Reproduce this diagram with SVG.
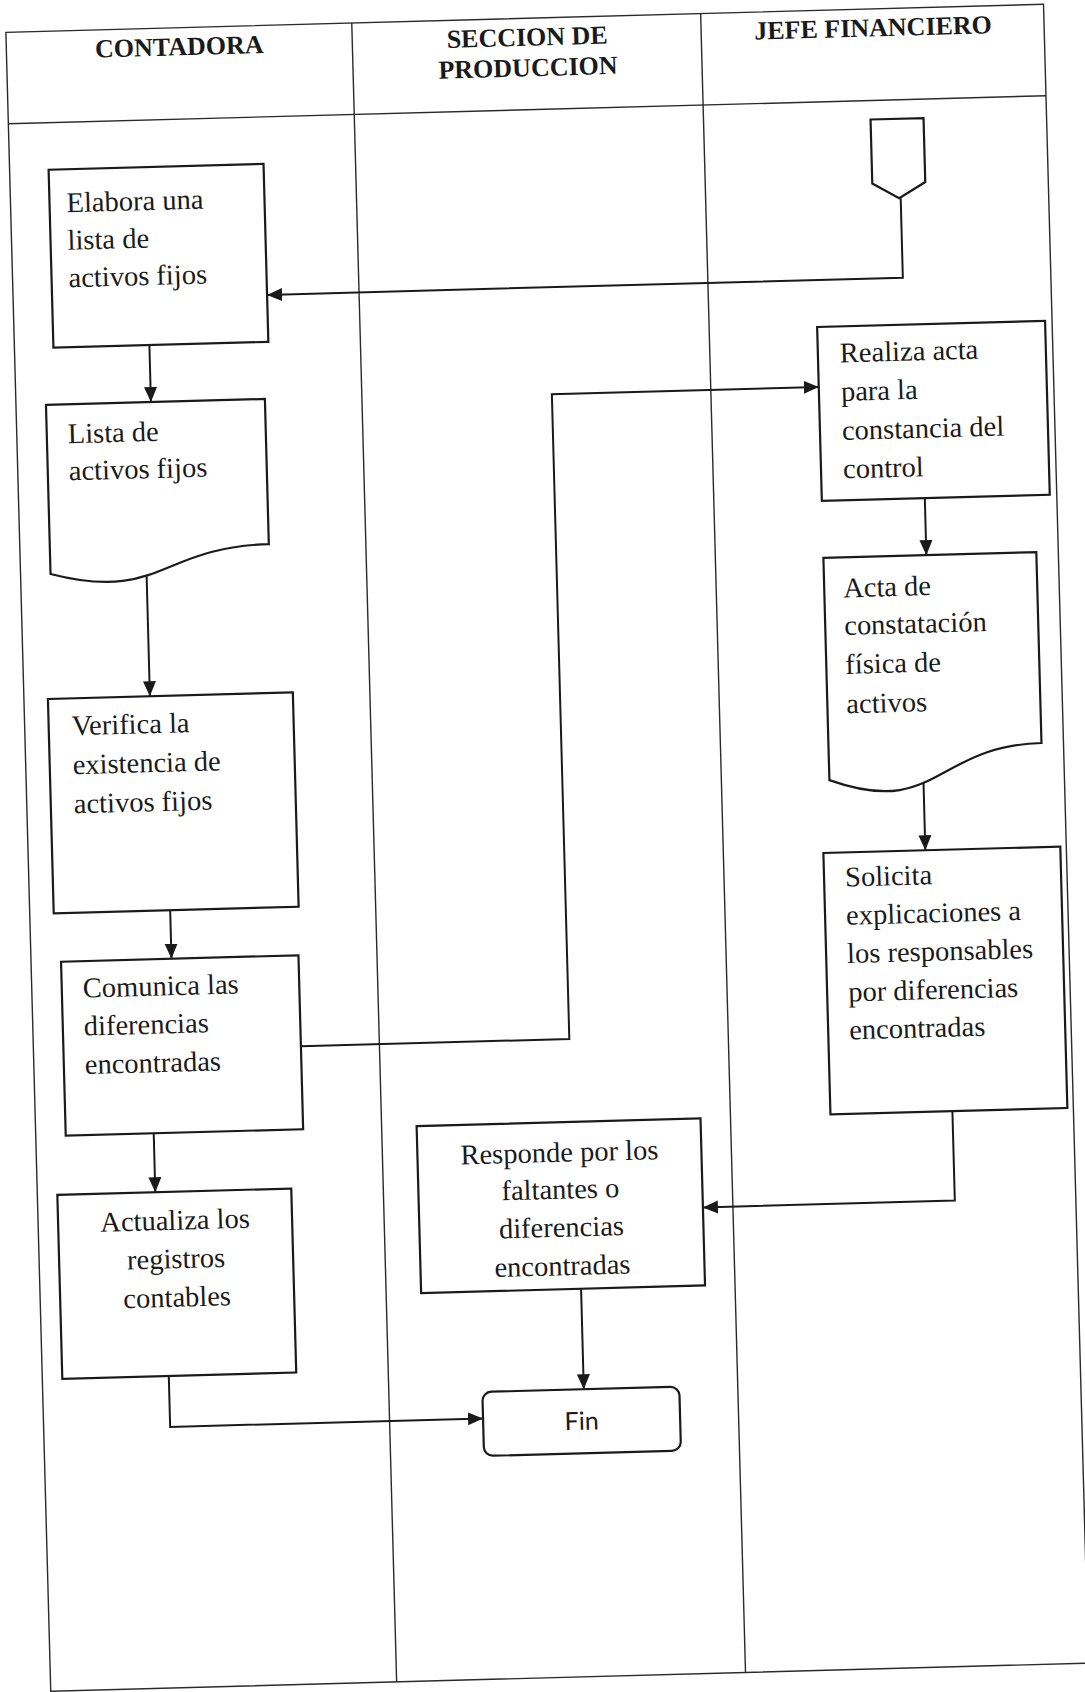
<svg xmlns="http://www.w3.org/2000/svg" width="1085" height="1692" viewBox="0 0 1085 1692">
  <style>
    .lane { fill: none; stroke: #2a2a2a; stroke-width: 1.4; }
    .box { fill: #ffffff; stroke: #1a1a1a; stroke-width: 2.2; }
    .conn { fill: none; stroke: #1a1a1a; stroke-width: 2; }
    .hdr { font-family: "Liberation Serif", "Times New Roman", serif; font-weight: bold; font-size: 26px; fill: #1a1a1a; text-anchor: middle; }
    .txt { font-family: "Liberation Serif", "Times New Roman", serif; font-size: 28.5px; fill: #1a1a1a; }
    .mid { text-anchor: middle; }
    .fin { font-family: Lato, "Liberation Sans", sans-serif; font-size: 25px; fill: #1a1a1a; text-anchor: middle; }
  </style>
  <defs>
    <marker id="arrow" markerUnits="userSpaceOnUse" markerWidth="16" markerHeight="14" refX="15" refY="6.5" orient="auto">
      <path d="M0,0 L15,6.5 L0,13 Z" fill="#1a1a1a"/>
    </marker>
  </defs>
  <rect x="0" y="0" width="1085" height="1692" fill="#ffffff"/>
  <g transform="rotate(-1.55)">
    <g id="lanes">
      <rect class="lane" x="5" y="32.5" width="1038" height="1659.5"/>
      <line class="lane" x1="5" y1="124" x2="1043" y2="124"/>
      <line class="lane" x1="351" y1="32.5" x2="351" y2="1692"/>
      <line class="lane" x1="700" y1="32.5" x2="700" y2="1692"/>
      <text class="hdr" x="178" y="60">CONTADORA</text>
      <text class="hdr" x="526" y="60">SECCION DE</text>
      <text class="hdr" x="526" y="90.5">PRODUCCION</text>
      <text class="hdr" x="872" y="60">JEFE FINANCIERO</text>
    </g>
    <g id="connectors">
      <path class="conn" d="M895,222.5 V302 H259" marker-end="url(#arrow)"/>
      <path class="conn" d="M140,349 V406" marker-end="url(#arrow)"/>
      <path class="conn" d="M131,580 V700" marker-end="url(#arrow)"/>
      <path class="conn" d="M145.5,914.5 V963" marker-end="url(#arrow)"/>
      <path class="conn" d="M272.5,1054 H541 V409 H808" marker-end="url(#arrow)"/>
      <path class="conn" d="M123,1137 V1196" marker-end="url(#arrow)"/>
      <path class="conn" d="M131.5,1380 V1431 H444.5" marker-end="url(#arrow)"/>
      <path class="conn" d="M911,523 V580" marker-end="url(#arrow)"/>
      <path class="conn" d="M902,807 V875" marker-end="url(#arrow)"/>
      <path class="conn" d="M922,1136.5 V1226 H670" marker-end="url(#arrow)"/>
      <path class="conn" d="M546,1304 V1404.5" marker-end="url(#arrow)"/>
    </g>
    <g id="inicio">
      <path class="box" d="M867,143 H920 V207 L893.5,222.5 L867,207 Z"/>
    </g>
    <g id="elabora">
      <rect class="box" x="44" y="171" width="215" height="178"/>
      <text class="txt" x="61" y="214">Elabora una</text>
      <text class="txt" x="61" y="251.5">lista de</text>
      <text class="txt" x="61" y="289">activos fijos</text>
    </g>
    <g id="lista">
      <path class="box" d="M35,406 H254 V551.2 C144.5,551.2 144.5,606.4 35,575.1 Z"/>
      <text class="txt" x="56" y="445">Lista de</text>
      <text class="txt" x="56" y="482">activos fijos</text>
    </g>
    <g id="verifica">
      <rect class="box" x="29" y="700" width="245" height="214.5"/>
      <text class="txt" x="52" y="737">Verifica la</text>
      <text class="txt" x="52" y="776">existencia de</text>
      <text class="txt" x="52" y="815">activos fijos</text>
    </g>
    <g id="comunica">
      <rect class="box" x="35" y="963" width="237.5" height="174"/>
      <text class="txt" x="56" y="999.5">Comunica las</text>
      <text class="txt" x="56" y="1037.5">diferencias</text>
      <text class="txt" x="56" y="1076">encontradas</text>
    </g>
    <g id="actualiza">
      <rect class="box" x="25" y="1196" width="234" height="184"/>
      <text class="txt mid" x="142" y="1234">Actualiza los</text>
      <text class="txt mid" x="142" y="1272.5">registros</text>
      <text class="txt mid" x="142" y="1311">contables</text>
    </g>
    <g id="realiza">
      <rect class="box" x="808" y="349" width="228" height="174"/>
      <text class="txt" x="830" y="385">Realiza acta</text>
      <text class="txt" x="830" y="423.5">para la</text>
      <text class="txt" x="830" y="462.5">constancia del</text>
      <text class="txt" x="830" y="501">control</text>
    </g>
    <g id="acta">
      <path class="box" d="M808,580 H1021 V770.9 C914.5,770.9 914.5,843.5 808,802.3 Z"/>
      <text class="txt" x="827" y="620">Acta de</text>
      <text class="txt" x="827" y="657.5">constatación</text>
      <text class="txt" x="827" y="696.5">física  de</text>
      <text class="txt" x="827" y="736">activos</text>
    </g>
    <g id="solicita">
      <rect class="box" x="800" y="875" width="237" height="261.5"/>
      <text class="txt" x="821" y="909">Solicita</text>
      <text class="txt" x="821" y="947.3">explicaciones a</text>
      <text class="txt" x="821" y="985.6">los responsables</text>
      <text class="txt" x="821" y="1024">por diferencias</text>
      <text class="txt" x="821" y="1062">encontradas</text>
    </g>
    <g id="responde">
      <rect class="box" x="386" y="1137" width="284" height="167"/>
      <text class="txt mid" x="528" y="1176.5">Responde por los</text>
      <text class="txt mid" x="528" y="1213.5">faltantes o</text>
      <text class="txt mid" x="528" y="1251.5">diferencias</text>
      <text class="txt mid" x="528" y="1290">encontradas</text>
    </g>
    <g id="fin">
      <rect class="box" x="444.5" y="1404.5" width="197" height="64" rx="9"/>
      <text class="fin" x="543" y="1445">Fin</text>
    </g>
  </g>
</svg>
